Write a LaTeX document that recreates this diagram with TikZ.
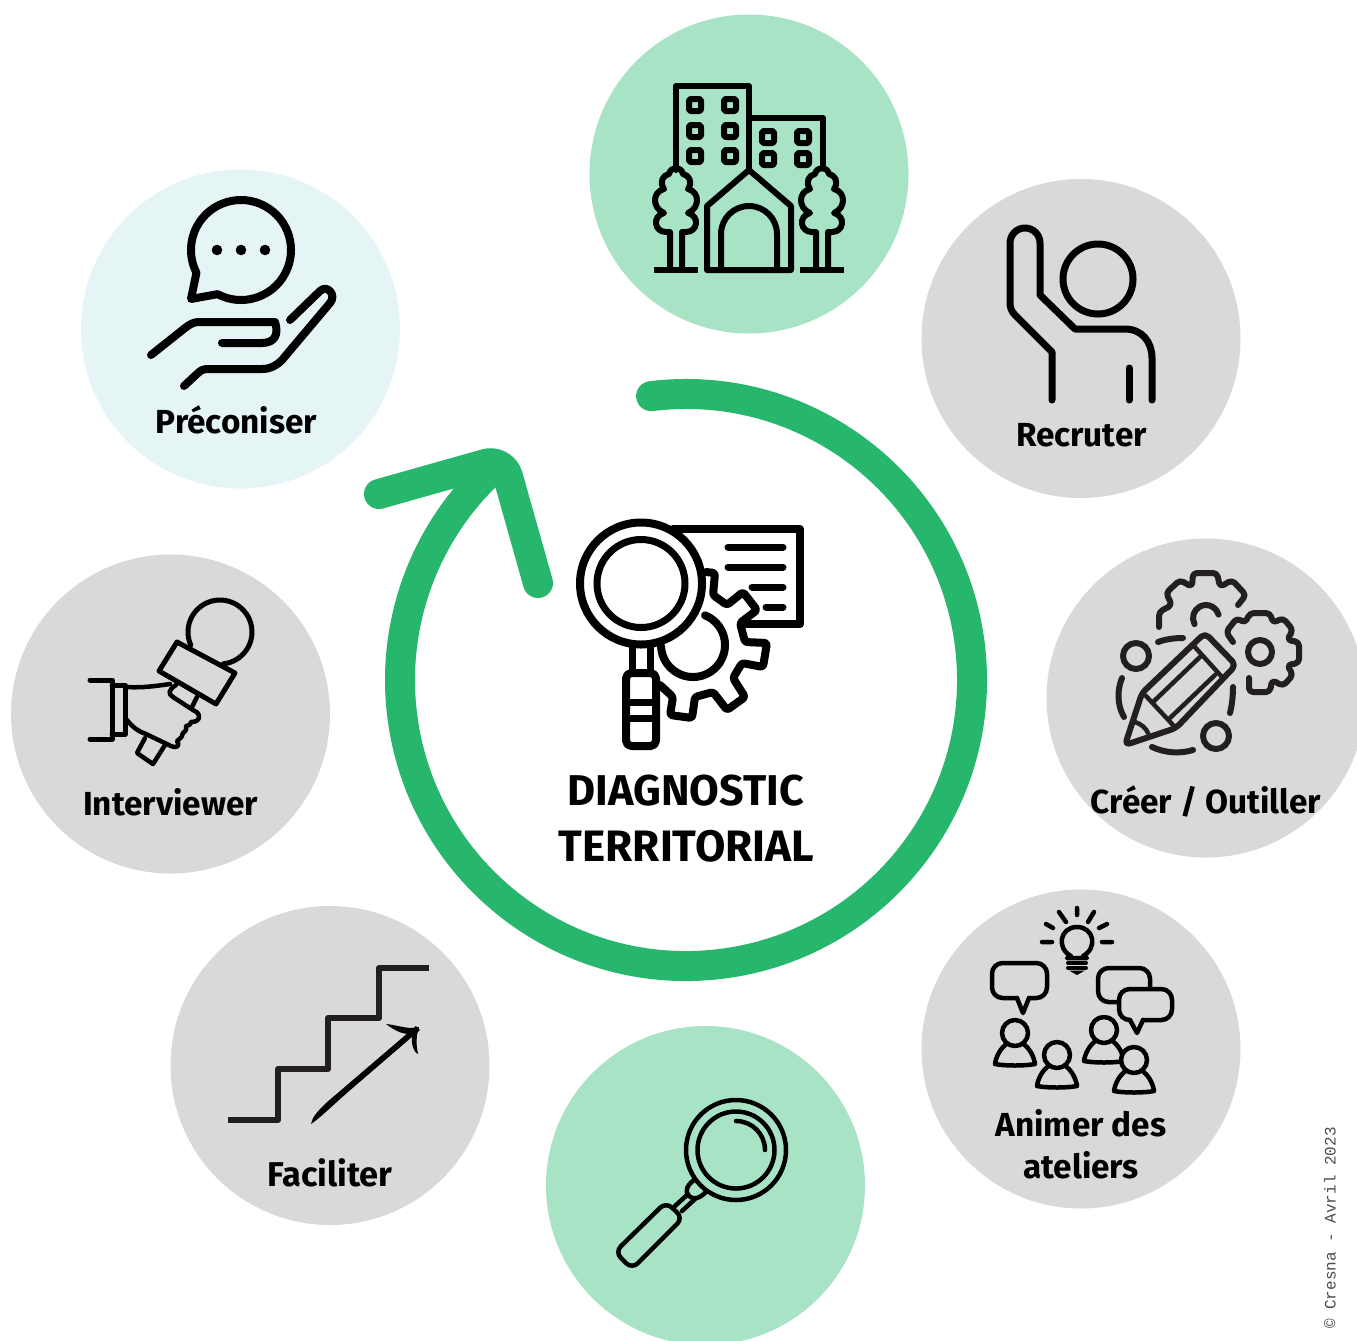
\documentclass[tikz,border=0pt]{standalone}
\usepackage{fontspec}
\setmainfont{Fira Sans}
\newfontfamily\copyfont{Liberation Mono}
\definecolor{mint}{HTML}{A8E3C6}
\definecolor{greycirc}{HTML}{D9D9D9}
\definecolor{palecirc}{HTML}{E5F5F6}
\definecolor{ringgreen}{HTML}{27B76C}
\definecolor{inkdark}{HTML}{231F20}
\tikzset{
  disc/.style={fill=#1,draw=none},
  ico/.style={draw=black,line width=#1*0.75pt,line cap=round,line join=round},
  ink/.style={draw=inkdark,line width=#1*0.75pt,line cap=round,line join=round},
  lbl/.style={font=\bfseries\fontsize{25}{25}\selectfont,text=black,inner sep=0pt,anchor=center},
  bigl/.style={font=\bfseries\fontsize{#1}{32}\selectfont,text=black,inner sep=0pt,anchor=center},
  win/.style={ico=6,rounded corners=1.5pt},
}
\newcommand{\winat}[2]{\draw[win] (#1-6,#2-6) rectangle (#1+6,#2+6);}
\newcommand{\treeat}[1]{%
  \draw[ico=6,shift={(#1,0)}] (-6,270) -- (-6,232) -- (-10,232)
    .. controls (-22,232) and (-24,216) .. (-12,213)
    .. controls (-24,208) and (-24,192) .. (-12,189)
    .. controls (-17,182) and (-13,175) .. (-7,174)
    .. controls (-6,170) and (-3,168) .. (0,168)
    .. controls (3,168) and (6,170) .. (7,174)
    .. controls (13,175) and (17,182) .. (12,189)
    .. controls (24,192) and (24,208) .. (12,213)
    .. controls (24,216) and (22,232) .. (10,232)
    -- (6,232) -- (6,270);
  \draw[draw=black,line width=4.5pt,shift={(#1,0)}] (-22,270) -- (22,270);}
\newcommand{\personat}[2]{%
  \draw[ico=4.5,fill=greycirc,shift={(#1,#2)}] (-7,10)
    .. controls (-15,15) and (-19,24) .. (-20,31)
    .. controls (-10,33) and (10,33) .. (20,31)
    .. controls (19,24) and (15,15) .. (7,10);
  \draw[ico=4.5,fill=greycirc] (#1,#2) circle[radius=13];}
\begin{document}
\begin{tikzpicture}[x=0.75pt,y=0.75pt,yscale=-1]
\useasboundingbox (0,0) rectangle (1357,1340);
\clip (0,0) rectangle (1357,1340);
\fill[white] (0,0) rectangle (1357,1340);
% discs
\fill[disc=mint] (749,174) circle[radius=159.5];
\fill[disc=greycirc] (1081,338.5) circle[radius=159.5];
\fill[disc=greycirc] (1206,698) circle[radius=159.5];
\fill[disc=greycirc] (1081,1049) circle[radius=159.5];
\fill[disc=mint] (705.5,1185.5) circle[radius=159.5];
\fill[disc=greycirc] (330,1065.5) circle[radius=159.5];
\fill[disc=greycirc] (170.5,714) circle[radius=159.5];
\fill[disc=palecirc] (240.5,329) circle[radius=159.5];
% ring
\draw[draw=ringgreen,line width=22.5pt,line cap=round,line join=round]
  (686,680) ++(-97:286) arc[start angle=-97,end angle=228,radius=286];
\draw[draw=ringgreen,line width=22.5pt,line cap=round,line join=round,rounded corners=13.5pt]
  (379,494) -- (503,459) -- (538,583);
% building
\draw[ico=6] (676,170) -- (676,86) -- (749,86) -- (749,170);
\draw[ico=6] (749,118) -- (823,118) -- (823,168);
\winat{695}{105}\winat{730}{105}\winat{695}{131}\winat{730}{131}\winat{695}{156}\winat{730}{156}
\winat{768}{137}\winat{803}{137}\winat{768}{159}\winat{803}{159}
\draw[ico=6] (707,270) -- (707,206) -- (749,170) -- (791,206) -- (791,270) -- cycle;
\draw[ico=6] (721,268) -- (721,234) arc[start angle=180,end angle=360,radius=28] -- (777,268);
\treeat{676}\treeat{822}
% centre icon
\draw[ico=8] (673,529) -- (800,529) -- (800,624) -- (745,624);
\draw[ico=7] (728,547) -- (783,547) (728,567) -- (783,567) (752,587) -- (783,587) (766,607) -- (783,607);
\draw[ico=8,rounded corners=2pt] (706,572) -- (715,573) -- (713,595) -- (727,605) -- (743,592) -- (757,610)
  -- (740,623) -- (745,642) -- (767,643) -- (763,667) -- (742,663) -- (733,678) -- (745,697) -- (727,710)
  -- (713,692) -- (695,697) -- (692,718) -- (670,715) -- (673,697) -- (660,685);
\draw[ico=8] (693,645) ++(-68:32) arc[start angle=-68,end angle=178,radius=32];
\draw[ico=8] (641,583.5) circle[radius=61];
\draw[ico=7] (641,583.5) circle[radius=44];
\draw[ico=7,line cap=butt] (632,647) -- (632,672) (650,647) -- (650,672);
\draw[ico=8,rounded corners=4pt] (626,673) rectangle (656,746);
\draw[ico=7,line cap=butt] (626,702) -- (656,702) (626,718) -- (656,718);
% texts centre
\node[bigl=32.3] (diag) at (686,791) {DIAGNOSTIC};
\node[bigl=33] (terr) at (686.5,846) {TERRITORIAL};
% recruter
\draw[ico=7] (1098,279) circle[radius=35];
\draw[ico=7] (1052,400) -- (1052,352) -- (1015,315) .. controls (1011,311) and (1010,307) .. (1010,302)
  -- (1010,243) arc[start angle=180,end angle=360,radius=15] -- (1040,295) -- (1075,329) -- (1125,329)
  .. controls (1142,329) and (1152,342) .. (1152,358) -- (1152,400);
\draw[ico=7] (1129,368) -- (1129,400);
\node[lbl] (recr) at (1081.5,435) {Recruter};
% creer
\draw[ink=6,rounded corners=3pt] (1159,627) -- (1159,612) -- (1172,605) -- (1166,593) -- (1180,580) -- (1192,587)
  -- (1193,573) -- (1217,573) -- (1220,587) -- (1232,580) -- (1246,595) -- (1238,605);
\draw[ink=6] (1206,618) ++(152:13) arc[start angle=152,end angle=345,radius=13];
\draw[ink=6,rounded corners=3pt] (1233,642) -- (1226,632) -- (1237,618) -- (1245,623) -- (1250,613) -- (1270,613)
  -- (1273,623) -- (1283,618) -- (1293,630) -- (1287,640) -- (1299,642) -- (1299,663) -- (1287,665) -- (1293,675)
  -- (1283,686) -- (1272,680) -- (1270,692) -- (1249,692) -- (1249,678);
\draw[ink=6] (1260,652) circle[radius=12];
\draw[ink=6] (1136,656) circle[radius=13];
\draw[ink=6] (1216,736) circle[radius=13];
\draw[ink=6] (1158,642) .. controls (1166,639) and (1175,638) .. (1183,638);
\draw[ink=6] (1122,678) .. controls (1117,690) and (1117,705) .. (1124,717);
\draw[ink=6] (1152,747) .. controls (1165,753) and (1180,754) .. (1193,750);
\draw[ink=6] (1233,687) .. controls (1233,696) and (1232,705) .. (1230,713);
\draw[ink=6,rounded corners=4pt] (1125,745) -- (1142,693) -- (1205,633) -- (1236,665) -- (1176,728) -- cycle;
\draw[ink=4.5] (1146,696) -- (1173,725) (1193,645) -- (1222,677) (1153,702) -- (1200,657) (1170,718) -- (1215,675);
\draw[ink=4.5] (1135,722) .. controls (1141,724) and (1146,728) .. (1148,733);
\node[lbl] (creer) at (1206,801) {Créer / Outiller};
% animer
\draw[ico=4.5] (1071,956) .. controls (1056,948) and (1060,927) .. (1077,927)
  .. controls (1094,927) and (1098,948) .. (1083,956) -- (1087,958) -- (1067,958) -- cycle;
\draw[ico=4] (1068,963) -- (1086,963) (1068,968) -- (1086,968);
\fill[black] (1069,970.5) -- (1085,970.5) -- (1077,975) -- cycle;
\draw[ico=4.5] (1042,942) -- (1052,942) (1102,942) -- (1112,942) (1046,924) -- (1053,928) (1107,924) -- (1099,928)
  (1059,912) -- (1066,922) (1094,912) -- (1088,922) (1077,908) -- (1077,915);
\draw[ico=4.5,rounded corners=8pt] (1017,998) -- (992,998) -- (992,963) -- (1047,963) -- (1047,998) -- (1029,998);
\draw[ico=4.5] (1017,998) -- (1023,1013) -- (1029,998);
\draw[ico=4.5,rounded corners=8pt] (1120,1002) -- (1098,1002) -- (1098,968) -- (1150,968) -- (1150,990);
\draw[ico=4.5,fill=greycirc,rounded corners=8pt] (1130,1020) -- (1119,1020) -- (1119,989) -- (1172,989) -- (1172,1020) -- (1143,1020);
\draw[ico=4.5] (1130,1020) -- (1137,1033) -- (1143,1020);
\personat{1015}{1033}\personat{1057}{1055}\personat{1104}{1030}\personat{1134}{1060}
\node[lbl] (anim1) at (1081,1123) {Animer des};
\node[lbl] (anim2) at (1081,1165) {ateliers};
% magnifier bottom
\draw[ico=4.5] (736,1150) circle[radius=50];
\draw[ico=4.5] (736,1150) circle[radius=38.5];
\draw[ico=4.5] (736,1121) arc[start angle=-90,end angle=0,radius=29];
\draw[ico=4.5] (694,1180) .. controls (686,1186) and (685,1192) .. (689,1196)
  .. controls (693,1200) and (699,1199) .. (706,1192);
\draw[ico=4.5] (687,1195) -- (675,1206) (695,1199) -- (682,1211);
\draw[ico=4.5,rounded corners=6pt] (666,1202) -- (683,1218) -- (632,1269) -- (615,1252) -- cycle;
% faciliter
\draw[draw=inkdark,line width=4.5pt,line join=round] (228,1120) -- (278,1120) -- (278,1069) -- (328,1069) -- (328,1018) -- (379,1018) -- (379,968) -- (429,968);
\fill[black] (311,1124) .. controls (312,1117) and (318,1111) .. (326,1103) -- (416,1026) -- (420,1030) -- (348,1092) .. controls (332,1106) and (320,1118) .. (311,1124) -- cycle;
\fill[black] (386,1024) .. controls (398,1025) and (408,1030) .. (419,1027) .. controls (416,1036) and (416,1045) .. (418,1054)
  .. controls (413,1052) and (410,1040) .. (413,1034) .. controls (404,1035) and (395,1031) .. (386,1024) -- cycle;
\node[font=\bfseries\fontsize{25.8}{26}\selectfont,inner sep=0pt,text=black] (faci) at (330,1173) {Faciliter};
% interviewer
\draw[ico=5] (220,632) ++(156:32) arc[start angle=156,end angle=444,radius=32];
\draw[ico=5] (177,642) -- (235,673) -- (216,704) -- (159,671) -- cycle;
\draw[ico=5] (90,680) -- (112,680) -- (112,739) -- (90,739);
\draw[ico=5] (112,685) -- (125,685) -- (125,734) -- (112,734);
\draw[ico=4.5] (127,687) .. controls (142,688) and (156,686) .. (170,684);
\draw[ico=4.5] (127,720) .. controls (133,728) and (140,732) .. (146,734) -- (171,746)
  .. controls (178,749) and (180,745) .. (177,741) .. controls (181,738) and (183,736) .. (183,733)
  .. controls (186,731) and (187,729) .. (186,726) .. controls (190,725) and (191,724) .. (191,722)
  .. controls (196,722) and (199,720) .. (199,717) .. controls (199,713) and (196,711) .. (193,710)
  -- (173,697) .. controls (168,694) and (168,690) .. (176,685);
\draw[ico=4.5] (197,697) -- (192,707);
\draw[ico=4.5] (145,738) -- (137,753) -- (153,764) -- (165,745);
\node[lbl] (inter) at (170.5,802) {Interviewer};
% preconiser
\draw[ico=8] (241,250) ++(118:50) arc[start angle=118,end angle=-207,radius=50] -- (191,299) -- cycle;
\fill[black] (217,250) circle[radius=5.3] (241,250) circle[radius=5.3] (265,250) circle[radius=5.3];
\draw[ico=8] (151,355) -- (185,328) .. controls (190,324) and (194,322) .. (199,322) -- (275,322)
  .. controls (279,334) and (275,343) .. (262,343) -- (222,343);
\draw[ico=8] (184,386) -- (198,373) .. controls (201,370) and (204,369) .. (208,369) -- (262,369)
  .. controls (270,369) and (276,366) .. (282,360) -- (330,303)
  .. controls (337,295) and (327,284) .. (320,291) -- (290,320);
\node[lbl] (prec) at (236.5,420) {Préconiser};
% copyright
\node[font=\copyfont\fontsize{12}{12}\selectfont,text=black!70,rotate=90,inner sep=0pt,anchor=center] (copy) at (1330,1228) {© Cresna - Avril 2023};
\end{tikzpicture}
\end{document}
